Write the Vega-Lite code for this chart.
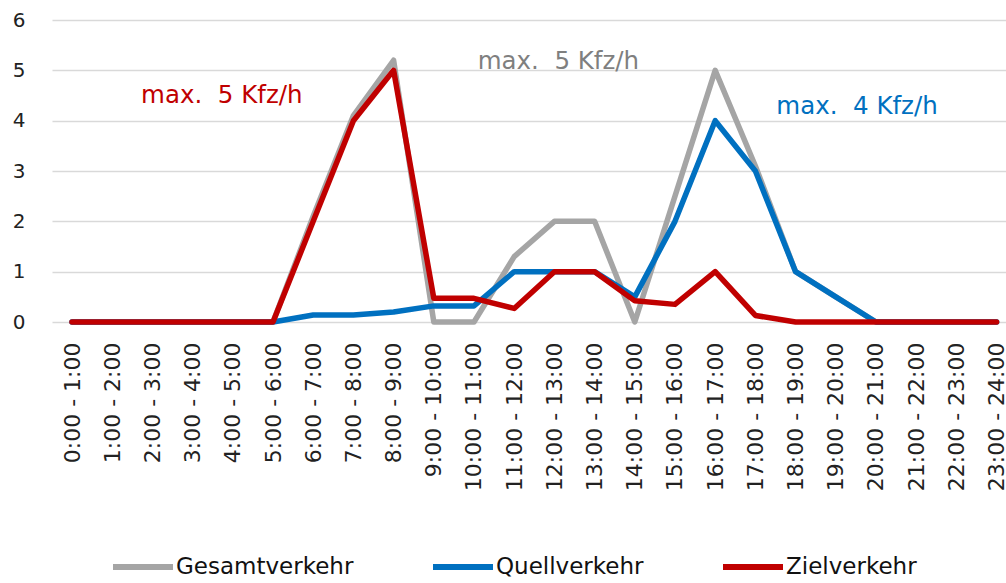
{
  "$schema": "https://vega.github.io/schema/vega-lite/v6.json",
  "width": 954,
  "height": 302,
  "autosize": {"type": "none"},
  "padding": {"left": 52, "top": 20, "right": 0, "bottom": 261},
  "background": "white",
  "config": {
    "view": {"stroke": null},
    "font": "DejaVu Sans",
    "axisX": {"labelFontSize": 22, "labelFont": "DejaVu Sans", "labelAngle": -90, "labelPadding": 20, "ticks": false, "domain": false, "grid": false, "labelColor": "#222222", "title": null},
    "axisY": {"labelFontSize": 20, "labelFont": "DejaVu Sans", "labelPadding": 27, "ticks": false, "domain": false, "grid": true, "gridColor": "#D9D9D9", "gridWidth": 1.5, "labelColor": "#222222", "title": null},
    "legend": {"labelFontSize": 23, "labelFont": "DejaVu Sans"}
  },
  "datasets": {
    "traffic": [
      {"slot": "0:00 - 1:00", "Gesamtverkehr": 0, "Quellverkehr": 0, "Zielverkehr": 0},
      {"slot": "1:00 - 2:00", "Gesamtverkehr": 0, "Quellverkehr": 0, "Zielverkehr": 0},
      {"slot": "2:00 - 3:00", "Gesamtverkehr": 0, "Quellverkehr": 0, "Zielverkehr": 0},
      {"slot": "3:00 - 4:00", "Gesamtverkehr": 0, "Quellverkehr": 0, "Zielverkehr": 0},
      {"slot": "4:00 - 5:00", "Gesamtverkehr": 0, "Quellverkehr": 0, "Zielverkehr": 0},
      {"slot": "5:00 - 6:00", "Gesamtverkehr": 0, "Quellverkehr": 0, "Zielverkehr": 0},
      {"slot": "6:00 - 7:00", "Gesamtverkehr": 2.1, "Quellverkehr": 0.14, "Zielverkehr": 2},
      {"slot": "7:00 - 8:00", "Gesamtverkehr": 4.1, "Quellverkehr": 0.14, "Zielverkehr": 4},
      {"slot": "8:00 - 9:00", "Gesamtverkehr": 5.2, "Quellverkehr": 0.2, "Zielverkehr": 5},
      {"slot": "9:00 - 10:00", "Gesamtverkehr": 0, "Quellverkehr": 0.32, "Zielverkehr": 0.47},
      {"slot": "10:00 - 11:00", "Gesamtverkehr": 0, "Quellverkehr": 0.32, "Zielverkehr": 0.47},
      {"slot": "11:00 - 12:00", "Gesamtverkehr": 1.3, "Quellverkehr": 1, "Zielverkehr": 0.27},
      {"slot": "12:00 - 13:00", "Gesamtverkehr": 2, "Quellverkehr": 1, "Zielverkehr": 1},
      {"slot": "13:00 - 14:00", "Gesamtverkehr": 2, "Quellverkehr": 1, "Zielverkehr": 1},
      {"slot": "14:00 - 15:00", "Gesamtverkehr": 0, "Quellverkehr": 0.5, "Zielverkehr": 0.42},
      {"slot": "15:00 - 16:00", "Gesamtverkehr": 2.5, "Quellverkehr": 2, "Zielverkehr": 0.35},
      {"slot": "16:00 - 17:00", "Gesamtverkehr": 5, "Quellverkehr": 4, "Zielverkehr": 1},
      {"slot": "17:00 - 18:00", "Gesamtverkehr": 3.1, "Quellverkehr": 3, "Zielverkehr": 0.13},
      {"slot": "18:00 - 19:00", "Gesamtverkehr": 1, "Quellverkehr": 1, "Zielverkehr": 0},
      {"slot": "19:00 - 20:00", "Gesamtverkehr": 0.5, "Quellverkehr": 0.5, "Zielverkehr": 0},
      {"slot": "20:00 - 21:00", "Gesamtverkehr": 0, "Quellverkehr": 0, "Zielverkehr": 0},
      {"slot": "21:00 - 22:00", "Gesamtverkehr": 0, "Quellverkehr": 0, "Zielverkehr": 0},
      {"slot": "22:00 - 23:00", "Gesamtverkehr": 0, "Quellverkehr": 0, "Zielverkehr": 0},
      {"slot": "23:00 - 24:00", "Gesamtverkehr": 0, "Quellverkehr": 0, "Zielverkehr": 0}
    ],
    "notes": [
      {"series": "Zielverkehr", "label": "max.\u00a0 5 Kfz/h", "slot": "4:00 - 5:00", "value": 4.5},
      {"series": "Gesamtverkehr", "label": "max.\u00a0 5 Kfz/h", "slot": "12:00 - 13:00", "value": 5.17},
      {"series": "Quellverkehr", "label": "max.\u00a0 4 Kfz/h", "slot": "20:00 - 21:00", "value": 4.27}
    ]
  },
  "layer": [
    {
      "data": {"name": "traffic"},
      "transform": [
        {"fold": ["Gesamtverkehr", "Quellverkehr", "Zielverkehr"], "as": ["series", "value"]}
      ],
      "mark": {"type": "line", "strokeWidth": 5.5, "strokeJoin": "round", "strokeCap": "round"},
      "encoding": {
        "x": {
          "field": "slot", "type": "ordinal", "sort": null,
          "scale": {"type": "point", "padding": 0.366, "align": 0.68},
          "axis": {"title": null, "labelAngle": -90, "labelFontSize": 22, "labelPadding": 20}
        },
        "y": {
          "field": "value", "type": "quantitative",
          "scale": {"domain": [0, 6], "nice": false},
          "axis": {"title": null, "values": [0, 1, 2, 3, 4, 5, 6], "labelFontSize": 20, "labelPadding": 27}
        },
        "color": {
          "field": "series", "type": "nominal",
          "scale": {"domain": ["Gesamtverkehr", "Quellverkehr", "Zielverkehr"], "range": ["#A5A5A5", "#0070C0", "#C00000"]},
          "legend": {
            "title": null, "orient": "none", "direction": "horizontal", "legendX": 58, "legendY": 514,
            "symbolType": "stroke", "symbolSize": 3600, "symbolStrokeWidth": 6,
            "labelFontSize": 23, "labelColor": "#111111", "labelOffset": 0, "labelLimit": 400,
            "columnPadding": 67
          }
        }
      }
    },
    {
      "data": {"name": "notes"},
      "transform": [{"filter": "datum.series == 'Zielverkehr'"}],
      "mark": {"type": "text", "fontSize": 24.5, "color": "#C00000", "dx": -11, "baseline": "middle", "align": "center"},
      "encoding": {
        "x": {"field": "slot", "type": "ordinal", "sort": null},
        "y": {"field": "value", "type": "quantitative"},
        "text": {"field": "label"}
      }
    },
    {
      "data": {"name": "notes"},
      "transform": [{"filter": "datum.series == 'Gesamtverkehr'"}],
      "mark": {"type": "text", "fontSize": 24.5, "color": "#7F7F7F", "dx": 4, "baseline": "middle", "align": "center"},
      "encoding": {
        "x": {"field": "slot", "type": "ordinal", "sort": null},
        "y": {"field": "value", "type": "quantitative"},
        "text": {"field": "label"}
      }
    },
    {
      "data": {"name": "notes"},
      "transform": [{"filter": "datum.series == 'Quellverkehr'"}],
      "mark": {"type": "text", "fontSize": 24.5, "color": "#0070C0", "dx": -19, "baseline": "middle", "align": "center"},
      "encoding": {
        "x": {"field": "slot", "type": "ordinal", "sort": null},
        "y": {"field": "value", "type": "quantitative"},
        "text": {"field": "label"}
      }
    }
  ]
}
